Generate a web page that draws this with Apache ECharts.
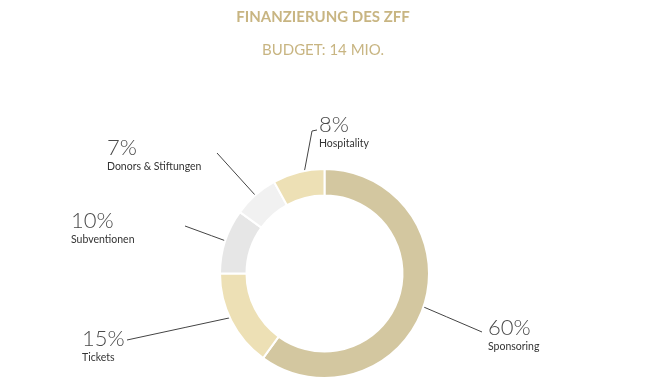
<!DOCTYPE html>
<html><head><meta charset="utf-8">
<script src="https://cdn.jsdelivr.net/npm/echarts@6/dist/echarts.min.js"></script>
<style>html,body{margin:0;padding:0;background:#fff}#c{width:646px;height:388px}</style>
</head><body><div id="c"></div>
<script>
const categories = ['Sponsoring', 'Tickets', 'Subventionen', 'Donors & Stiftungen', 'Hospitality'];
const values = [60, 15, 10, 7, 8];
const colors = ['#d3c7a0', '#ede0b5', '#e6e6e6', '#f1f1f1', '#ede0b5'];
// label block top-left and leader line end (annotation placement, px)
const labelPos = [[488, 316], [82, 327], [71, 209], [107, 136], [319, 113]];
const lineEnd = [[482, 332], [127, 340], [185, 226], [217, 153], [313, 130]];

const W = 646, H = 388;
const cx = 324.5, cy = 273.5, rIn = 78, rOut = 104.5, rMid = (rIn + rOut) / 2;

const chart = echarts.init(document.getElementById('c'), null, {renderer: 'canvas'});
chart.setOption({
  animation: false,
  title: {
    text: 'FINANZIERUNG DES ZFF',
    subtext: 'BUDGET: 14 MIO.',
    left: 'center', top: 5, itemGap: 18,
    textStyle: {fontFamily: 'Lato', fontWeight: 'bold', fontSize: 15, color: '#c8b582'},
    subtextStyle: {fontFamily: 'Lato', fontWeight: 'normal', fontSize: 15, color: '#c8b582'}
  },
  series: [{
    type: 'pie',
    center: [cx, cy],
    radius: [rIn, rOut],
    startAngle: 90,
    clockwise: true,
    avoidLabelOverlap: false,
    itemStyle: {borderColor: '#fff', borderWidth: 2},
    emphasis: {disabled: true},
    label: {
      show: true,
      position: 'outside',
      formatter: p => '{p|' + p.value + '%}\n{n|' + p.name + '}',
      rich: {
        p: {fontFamily: 'Lato', fontWeight: 300, fontSize: 22, color: '#4a4a4a', lineHeight: 24},
        n: {fontFamily: 'Lato', fontWeight: 'normal', fontSize: 10.5, color: '#333', lineHeight: 14}
      }
    },
    labelLine: {show: true, lineStyle: {color: '#444', width: 1}, length: 10, length2: 10},
    labelLayout: function (params) {
      const i = params.dataIndex;
      // start point at ring middle on the slice's mid angle
      const pts = params.labelLinePoints;
      let start = [cx, cy];
      if (pts && pts[0]) {
        const dx = pts[0][0] - cx, dy = pts[0][1] - cy;
        const d = Math.sqrt(dx * dx + dy * dy) || 1;
        start = [cx + dx / d * rMid, cy + dy / d * rMid];
      }
      const e = lineEnd[i];
      let mid = [(start[0] + e[0]) / 2, (start[1] + e[1]) / 2];
      let end = e;
      if (i === 4) { mid = [e[0] - 1, e[1] + 1]; end = [e[0] + 4, e[1]]; }
      return {
        x: labelPos[i][0], y: labelPos[i][1],
        align: 'left', verticalAlign: 'top',
        labelLinePoints: [start, mid, end]
      };
    },
    data: categories.map((c, i) => ({name: c, value: values[i], itemStyle: {color: colors[i]}}))
  }]
});
</script></body></html>
